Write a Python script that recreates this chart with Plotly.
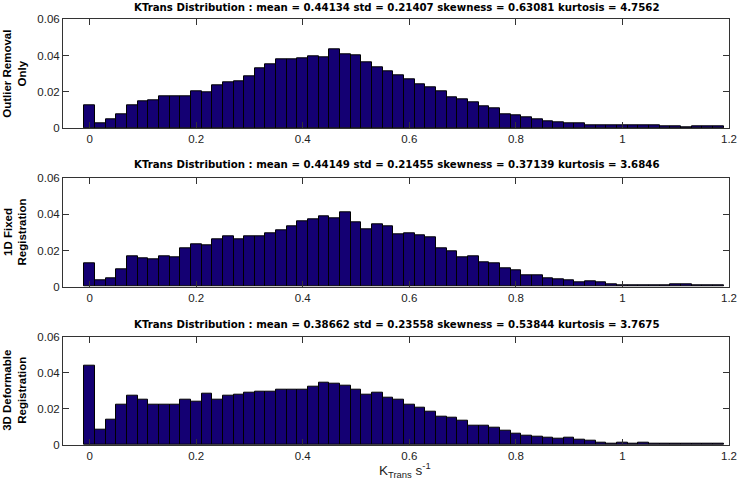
import plotly.graph_objects as go
from plotly.subplots import make_subplots

# Bin centres (KTrans, s^-1)
bin_centers = [0.00, 0.02, 0.04, 0.06, 0.08, 0.10, 0.12, 0.14, 0.16, 0.18,
               0.20, 0.22, 0.24, 0.26, 0.28, 0.30, 0.32, 0.34, 0.36, 0.38,
               0.40, 0.42, 0.44, 0.46, 0.48, 0.50, 0.52, 0.54, 0.56, 0.58,
               0.60, 0.62, 0.64, 0.66, 0.68, 0.70, 0.72, 0.74, 0.76, 0.78,
               0.80, 0.82, 0.84, 0.86, 0.88, 0.90, 0.92, 0.94, 0.96, 0.98,
               1.00, 1.02, 1.04, 1.06, 1.08, 1.10, 1.12, 1.14, 1.16, 1.18]

outlier_removal = [0.0127, 0.0028, 0.0048, 0.0079, 0.0127, 0.0147, 0.0152, 0.0178, 0.0178, 0.0178,
                   0.0204, 0.0198, 0.0235, 0.0251, 0.0257, 0.0288, 0.0330, 0.0350, 0.0382, 0.0382,
                   0.0387, 0.0396, 0.0391, 0.0435, 0.0407, 0.0402, 0.0362, 0.0336, 0.0314, 0.0293,
                   0.0272, 0.0240, 0.0226, 0.0205, 0.0173, 0.0161, 0.0141, 0.0121, 0.0110, 0.0079,
                   0.0073, 0.0062, 0.0047, 0.0041, 0.0031, 0.0030, 0.0025, 0.0019, 0.0019, 0.0019,
                   0.0015, 0.0014, 0.0014, 0.0014, 0.0010, 0.0010, 0.0006, 0.0010, 0.0010, 0.0010]

fixed_1d = [0.0127, 0.0037, 0.0046, 0.0094, 0.0166, 0.0157, 0.0151, 0.0166, 0.0161, 0.0214,
            0.0233, 0.0227, 0.0262, 0.0279, 0.0262, 0.0279, 0.0279, 0.0294, 0.0314, 0.0336,
            0.0362, 0.0371, 0.0390, 0.0378, 0.0410, 0.0356, 0.0319, 0.0347, 0.0332, 0.0292,
            0.0294, 0.0286, 0.0273, 0.0214, 0.0194, 0.0162, 0.0168, 0.0137, 0.0131, 0.0100,
            0.0092, 0.0061, 0.0061, 0.0048, 0.0041, 0.0035, 0.0022, 0.0028, 0.0022, 0.0015,
            0.0009, 0.0009, 0.0009, 0.0009, 0.0006, 0.0011, 0.0011, 0.0006, 0.0006, 0.0006]

deformable_3d = [0.0440, 0.0083, 0.0142, 0.0221, 0.0274, 0.0252, 0.0221, 0.0221, 0.0226, 0.0252,
                 0.0241, 0.0283, 0.0252, 0.0272, 0.0280, 0.0289, 0.0298, 0.0298, 0.0307, 0.0307,
                 0.0307, 0.0324, 0.0346, 0.0337, 0.0326, 0.0309, 0.0280, 0.0289, 0.0261, 0.0252,
                 0.0225, 0.0204, 0.0184, 0.0156, 0.0153, 0.0132, 0.0109, 0.0109, 0.0094, 0.0079,
                 0.0063, 0.0053, 0.0048, 0.0040, 0.0035, 0.0040, 0.0031, 0.0026, 0.0015, 0.0009,
                 0.0015, 0.0009, 0.0015, 0.0009, 0.0009, 0.0009, 0.0006, 0.0009, 0.0006, 0.0009]

titles = [
    "KTrans Distribution : mean = 0.44134 std = 0.21407 skewness = 0.63081 kurtosis = 4.7562",
    "KTrans Distribution : mean = 0.44149 std = 0.21455 skewness = 0.37139 kurtosis = 3.6846",
    "KTrans Distribution : mean = 0.38662 std = 0.23558 skewness = 0.53844 kurtosis = 3.7675",
]
row_labels = ["Outlier Removal<br>Only", "1D Fixed<br>Registration", "3D Deformable<br>Registration"]
x_ticks = [0, 0.2, 0.4, 0.6, 0.8, 1.0, 1.2]
x_tick_text = ["0", "0.2", "0.4", "0.6", "0.8", "1", "1.2"]
y_ticks = [0, 0.02, 0.04, 0.06]
y_tick_text = ["0", "0.02", "0.04", "0.06"]
x_label = "K<sub>Trans</sub> s<sup>-1</sup>"

series = [outlier_removal, fixed_1d, deformable_3d]

W, H = 738, 487
ML, MR, MT, MB = 63, 9, 19, 42
plot_h = H - MT - MB
# panel pixel extents (top, bottom)
panels_px = [(19.3, 128.3), (178.3, 286.7), (336.7, 445.3)]
title_px = [7, 164, 324]


def py(px):
    return (H - MB - px) / plot_h


fig = make_subplots(rows=3, cols=1)

FONT = "Liberation Sans, Arial, Helvetica, sans-serif"
TFONT = "DejaVu Sans, Liberation Sans, Arial, sans-serif"
BAR = "#140073"

for i, vals in enumerate(series):
    r = i + 1
    fig.add_trace(go.Bar(x=bin_centers, y=vals, width=0.02,
                         marker=dict(color=BAR, line=dict(color="black", width=1)),
                         showlegend=False, hoverinfo="skip"), row=r, col=1)
    top, bot = panels_px[i]
    dom = [max(0.0, py(bot)), min(1.0, py(top))]
    xa = "xaxis" if r == 1 else f"xaxis{r}"
    ya = "yaxis" if r == 1 else f"yaxis{r}"
    fig.layout[xa].update(domain=[0, 1], range=[-0.05, 1.2], tickvals=x_ticks, ticktext=x_tick_text,
                          ticks="inside", ticklen=6, tickcolor="#333", mirror="ticks",
                          showline=True, linecolor="#333", linewidth=1, showgrid=False,
                          zeroline=False, automargin=False,
                          tickfont=dict(family=FONT, size=11.5, color="#222"))
    fig.layout[ya].update(domain=dom, range=[0, 0.06], tickvals=y_ticks, ticktext=y_tick_text,
                          ticks="inside", ticklen=6, tickcolor="#333", mirror="ticks",
                          showline=True, linecolor="#333", linewidth=1, showgrid=False,
                          zeroline=False, automargin=False,
                          tickfont=dict(family=FONT, size=11.5, color="#222"))
    fig.add_annotation(text=f"<b>{titles[i]}</b>", xref="paper", yref="paper",
                       x=0.5, y=py(title_px[i]), xanchor="center", yanchor="middle",
                       showarrow=False, font=dict(family=TFONT, size=10.2, color="black"))
    fig.add_annotation(text=f"<b>{row_labels[i]}</b>", xref="paper", yref="paper",
                       x=(15 - ML) / (W - ML - MR), y=(dom[0] + dom[1]) / 2,
                       xanchor="center", yanchor="middle", textangle=-90,
                       showarrow=False, font=dict(family=FONT, size=11.5, color="black"))

fig.add_annotation(text=x_label, xref="paper", yref="paper",
                   x=(405 - ML) / (W - ML - MR), y=py(470), xanchor="center", yanchor="middle",
                   showarrow=False, font=dict(family=FONT, size=13.5, color="#222"))

fig.update_layout(width=W, height=H, autosize=False, margin=dict(l=ML, r=MR, t=MT, b=MB),
                  paper_bgcolor="white", plot_bgcolor="white", bargap=0)

fig.write_html("out.html",
               config={"displayModeBar": False, "responsive": False},
               post_script="document.body.style.margin='0';document.body.style.overflow='hidden';")
